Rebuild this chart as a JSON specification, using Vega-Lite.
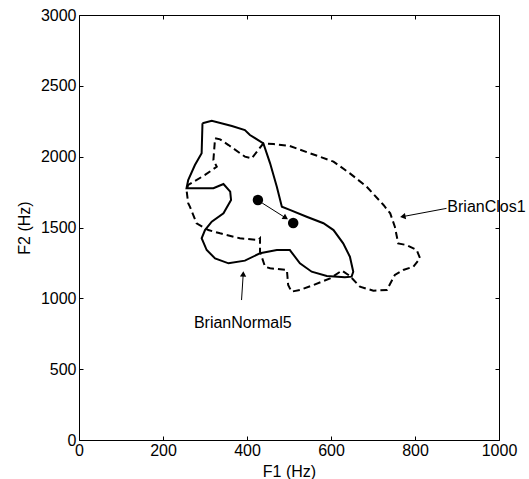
{
  "$schema": "https://vega.github.io/schema/vega-lite/v6.json",
  "width": 420,
  "height": 425,
  "autosize": {"type": "none"},
  "padding": {"left": 79, "top": 15, "right": 30, "bottom": 39},
  "background": "white",
  "config": {
    "font": "Liberation Sans",
    "view": {"stroke": "black", "strokeWidth": 1},
    "axis": {
      "domain": false,
      "grid": false,
      "ticks": true,
      "tickColor": "black",
      "tickSize": 4,
      "offset": -4,
      "tickWidth": 1,
      "format": "d",
      "labelFont": "Liberation Sans",
      "labelFontSize": 16,
      "labelColor": "black",
      "titleFont": "Liberation Sans",
      "titleFontSize": 16,
      "titleFontWeight": "normal",
      "titleColor": "black"
    }
  },
  "datasets": {
    "normal5": [
      {"i": 1, "f1": 294, "f2": 2236}, {"i": 2, "f1": 316, "f2": 2254}, {"i": 3, "f1": 364, "f2": 2216},
      {"i": 4, "f1": 395, "f2": 2188}, {"i": 5, "f1": 407, "f2": 2153}, {"i": 6, "f1": 439, "f2": 2094},
      {"i": 7, "f1": 455, "f2": 1953}, {"i": 8, "f1": 471, "f2": 1788}, {"i": 9, "f1": 483, "f2": 1647},
      {"i": 10, "f1": 502, "f2": 1624}, {"i": 11, "f1": 542, "f2": 1576}, {"i": 12, "f1": 582, "f2": 1530},
      {"i": 13, "f1": 606, "f2": 1482}, {"i": 14, "f1": 629, "f2": 1388}, {"i": 15, "f1": 645, "f2": 1294},
      {"i": 16, "f1": 653, "f2": 1188}, {"i": 17, "f1": 649, "f2": 1153}, {"i": 18, "f1": 633, "f2": 1148},
      {"i": 19, "f1": 590, "f2": 1158}, {"i": 20, "f1": 554, "f2": 1188}, {"i": 21, "f1": 526, "f2": 1247},
      {"i": 22, "f1": 502, "f2": 1341}, {"i": 23, "f1": 471, "f2": 1341}, {"i": 24, "f1": 431, "f2": 1318},
      {"i": 25, "f1": 395, "f2": 1266}, {"i": 26, "f1": 356, "f2": 1247}, {"i": 27, "f1": 324, "f2": 1282},
      {"i": 28, "f1": 304, "f2": 1341}, {"i": 29, "f1": 292, "f2": 1424}, {"i": 30, "f1": 300, "f2": 1482},
      {"i": 31, "f1": 316, "f2": 1541}, {"i": 32, "f1": 344, "f2": 1600}, {"i": 33, "f1": 362, "f2": 1694},
      {"i": 34, "f1": 360, "f2": 1753}, {"i": 35, "f1": 344, "f2": 1807}, {"i": 36, "f1": 320, "f2": 1777},
      {"i": 37, "f1": 256, "f2": 1777}, {"i": 38, "f1": 260, "f2": 1835}, {"i": 39, "f1": 276, "f2": 1941},
      {"i": 40, "f1": 292, "f2": 2024}, {"i": 41, "f1": 294, "f2": 2236}
    ],
    "clos1": [
      {"i": 1, "f1": 324, "f2": 2130}, {"i": 2, "f1": 336, "f2": 2122}, {"i": 3, "f1": 356, "f2": 2082},
      {"i": 4, "f1": 395, "f2": 2000}, {"i": 5, "f1": 411, "f2": 1988}, {"i": 6, "f1": 439, "f2": 2094},
      {"i": 7, "f1": 463, "f2": 2089}, {"i": 8, "f1": 502, "f2": 2075}, {"i": 9, "f1": 550, "f2": 2024},
      {"i": 10, "f1": 606, "f2": 1965}, {"i": 11, "f1": 645, "f2": 1882}, {"i": 12, "f1": 685, "f2": 1788},
      {"i": 13, "f1": 725, "f2": 1659}, {"i": 14, "f1": 741, "f2": 1600}, {"i": 15, "f1": 752, "f2": 1506},
      {"i": 16, "f1": 760, "f2": 1388}, {"i": 17, "f1": 780, "f2": 1376}, {"i": 18, "f1": 804, "f2": 1341},
      {"i": 19, "f1": 812, "f2": 1283}, {"i": 20, "f1": 796, "f2": 1223}, {"i": 21, "f1": 772, "f2": 1200},
      {"i": 22, "f1": 752, "f2": 1165}, {"i": 23, "f1": 733, "f2": 1059}, {"i": 24, "f1": 701, "f2": 1054},
      {"i": 25, "f1": 669, "f2": 1082}, {"i": 26, "f1": 645, "f2": 1158}, {"i": 27, "f1": 626, "f2": 1196},
      {"i": 28, "f1": 598, "f2": 1141}, {"i": 29, "f1": 558, "f2": 1094}, {"i": 30, "f1": 526, "f2": 1059},
      {"i": 31, "f1": 506, "f2": 1047}, {"i": 32, "f1": 498, "f2": 1094}, {"i": 33, "f1": 495, "f2": 1200},
      {"i": 34, "f1": 455, "f2": 1212}, {"i": 35, "f1": 443, "f2": 1223}, {"i": 36, "f1": 431, "f2": 1329},
      {"i": 37, "f1": 431, "f2": 1424}, {"i": 38, "f1": 427, "f2": 1412}, {"i": 39, "f1": 383, "f2": 1424},
      {"i": 40, "f1": 336, "f2": 1459}, {"i": 41, "f1": 308, "f2": 1482}, {"i": 42, "f1": 280, "f2": 1529},
      {"i": 43, "f1": 264, "f2": 1647}, {"i": 44, "f1": 260, "f2": 1671}, {"i": 45, "f1": 256, "f2": 1765},
      {"i": 46, "f1": 260, "f2": 1800}, {"i": 47, "f1": 300, "f2": 1871}, {"i": 48, "f1": 328, "f2": 1929},
      {"i": 49, "f1": 320, "f2": 1976}, {"i": 50, "f1": 324, "f2": 2130}
    ],
    "means": [
      {"f1": 426, "f2": 1694},
      {"f1": 510, "f2": 1532}
    ],
    "arrows": [
      {"name": "shift", "f1": 436, "f2": 1673, "f1end": 492, "f2end": 1568},
      {"name": "normal", "f1": 387, "f2": 988, "f1end": 391, "f2end": 1172},
      {"name": "clos", "f1": 875, "f2": 1635, "f1end": 771, "f2end": 1577}
    ],
    "labels": [
      {"name": "normal", "text": "BrianNormal5", "f1": 390, "f2": 826},
      {"name": "clos", "text": "BrianClos1", "f1": 877, "f2": 1647}
    ]
  },
  "resolve": {"axis": {"x": "independent", "y": "independent"}},
  "layer": [
    {
      "data": {"name": "normal5"},
      "mark": {"type": "line", "color": "black", "strokeWidth": 2},
      "encoding": {
        "x": {"field": "f1", "type": "quantitative", "scale": {"domain": [0, 1000], "nice": false},
              "axis": {"orient": "bottom", "title": "F1 (Hz)", "values": [0, 200, 400, 600, 800, 1000], "labelPadding": 2, "titlePadding": 5, "labelFlush": false}},
        "y": {"field": "f2", "type": "quantitative", "scale": {"domain": [0, 3000], "nice": false},
              "axis": {"orient": "left", "title": "F2 (Hz)", "values": [0, 500, 1000, 1500, 2000, 2500, 3000], "labelPadding": 3, "titlePadding": 8, "labelFlush": false}},
        "order": {"field": "i", "type": "quantitative"}
      }
    },
    {
      "data": {"name": "clos1"},
      "mark": {"type": "line", "color": "black", "strokeWidth": 2, "strokeDash": [7, 4]},
      "encoding": {
        "x": {"field": "f1", "type": "quantitative",
              "axis": {"orient": "top", "title": null, "labels": false, "values": [0, 200, 400, 600, 800, 1000]}},
        "y": {"field": "f2", "type": "quantitative",
              "axis": {"orient": "right", "title": null, "labels": false, "values": [0, 500, 1000, 1500, 2000, 2500, 3000]}},
        "order": {"field": "i", "type": "quantitative"}
      }
    },
    {
      "data": {"name": "means"},
      "mark": {"type": "point", "filled": true, "color": "black", "opacity": 1, "size": 110},
      "encoding": {
        "x": {"field": "f1", "type": "quantitative", "axis": null},
        "y": {"field": "f2", "type": "quantitative", "axis": null}
      }
    },
    {
      "data": {"name": "arrows"},
      "mark": {"type": "rule", "color": "black", "strokeWidth": 1},
      "encoding": {
        "x": {"field": "f1", "type": "quantitative", "axis": null},
        "y": {"field": "f2", "type": "quantitative", "axis": null},
        "x2": {"field": "f1end"},
        "y2": {"field": "f2end"}
      }
    },
    {
      "data": {"name": "arrows"},
      "transform": [{"filter": "datum.name === 'shift'"}],
      "mark": {"type": "point", "shape": "triangle-up", "filled": true, "color": "black", "opacity": 1, "size": 40, "angle": 123},
      "encoding": {
        "x": {"field": "f1end", "type": "quantitative", "axis": null},
        "y": {"field": "f2end", "type": "quantitative", "axis": null}
      }
    },
    {
      "data": {"name": "arrows"},
      "transform": [{"filter": "datum.name === 'normal'"}],
      "mark": {"type": "point", "shape": "triangle-up", "filled": true, "color": "black", "opacity": 1, "size": 40, "angle": 3},
      "encoding": {
        "x": {"field": "f1end", "type": "quantitative", "axis": null},
        "y": {"field": "f2end", "type": "quantitative", "axis": null}
      }
    },
    {
      "data": {"name": "arrows"},
      "transform": [{"filter": "datum.name === 'clos'"}],
      "mark": {"type": "point", "shape": "triangle-up", "filled": true, "color": "black", "opacity": 1, "size": 40, "angle": 259},
      "encoding": {
        "x": {"field": "f1end", "type": "quantitative", "axis": null},
        "y": {"field": "f2end", "type": "quantitative", "axis": null}
      }
    },
    {
      "data": {"name": "labels"},
      "transform": [{"filter": "datum.name === 'normal'"}],
      "mark": {"type": "text", "font": "Liberation Sans", "fontSize": 16, "color": "black", "align": "center", "baseline": "middle"},
      "encoding": {
        "x": {"field": "f1", "type": "quantitative", "axis": null},
        "y": {"field": "f2", "type": "quantitative", "axis": null},
        "text": {"field": "text"}
      }
    },
    {
      "data": {"name": "labels"},
      "transform": [{"filter": "datum.name === 'clos'"}],
      "mark": {"type": "text", "font": "Liberation Sans", "fontSize": 16, "color": "black", "align": "left", "baseline": "middle"},
      "encoding": {
        "x": {"field": "f1", "type": "quantitative", "axis": null},
        "y": {"field": "f2", "type": "quantitative", "axis": null},
        "text": {"field": "text"}
      }
    }
  ]
}
